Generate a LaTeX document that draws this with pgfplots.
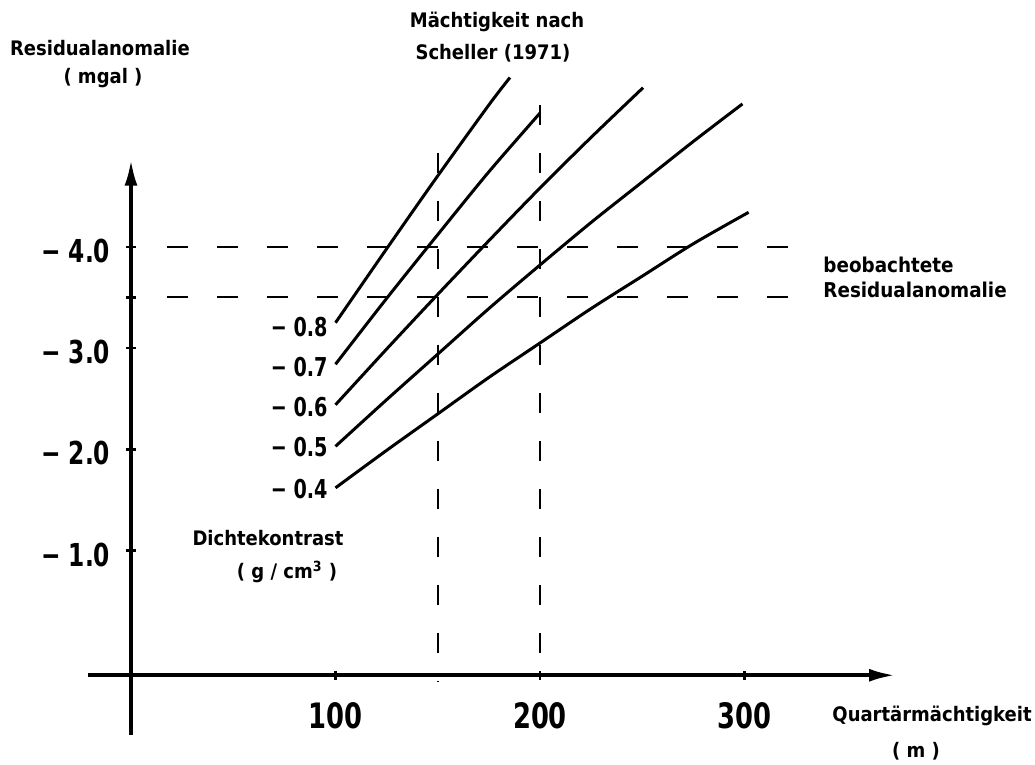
\documentclass[border=0pt]{standalone}
\usepackage{fontspec}
\setmainfont{DejaVu Sans Condensed}
\newfontfamily\narrow{DejaVu Sans Condensed}[FakeStretch=0.82]
\usepackage{pgfplots}
\pgfplotsset{compat=1.18}
\usetikzlibrary{arrows.meta}
\begin{document}
\begin{tikzpicture}
\begin{axis}[
  x=1.0225pt, y=50.65pt,
  xmin=0, xmax=373.6, ymin=-0.23, ymax=4.86,
  axis lines=left,
  axis line style={line width=1.8pt, -{Latex[length=13pt,width=6.5pt]}},
  clip=false,
  tick align=center,
  major tick length=4.5pt,
  tick style={black, line width=1.2pt},
  xtick={100,200,300}, xticklabels={100,200,300},
  ytick={1,2,3,4}, yticklabels={− 1.0,− 2.0,− 3.0,− 4.0},
  extra y ticks={3.5}, extra y tick labels={},
  xticklabel style={font=\narrow\bfseries\fontsize{17.5}{19}\selectfont, anchor=north, inner sep=0pt, yshift=-11pt},
  yticklabel style={font=\narrow\bfseries\fontsize{15.8}{18}\selectfont, anchor=east, inner sep=0pt, xshift=-8pt, yshift=-2pt},
]
% invisible frame = full picture
\path (axis cs:-64.06,6.436) rectangle (axis cs:442.05,-1.115);
% axis extensions
\draw[line width=1.8pt] (axis cs:-21,-0.23) -- (axis cs:0,-0.23);
\draw[line width=1.8pt] (axis cs:0,-0.23) -- (axis cs:0,-0.82);

% density contrast curves
\addplot[black, line width=1.5pt, smooth, tension=0.5] coordinates {(100,3.25) (125,3.98) (150,4.70) (175,5.40) (185.3,5.67)};
\addplot[black, line width=1.5pt, smooth, tension=0.5] coordinates {(100,2.84) (125,3.49) (150,4.12) (175,4.74) (200,5.32)};
\addplot[black, line width=1.5pt, smooth, tension=0.5] coordinates {(100,2.44) (125,2.99) (150,3.53) (175,4.06) (200,4.58) (225,5.08) (250.4,5.57)};
\addplot[black, line width=1.5pt, smooth, tension=0.5] coordinates {(100,2.03) (125,2.49) (150,2.94) (175,3.39) (200,3.82) (225,4.24) (250,4.64) (275,5.04) (299,5.41)};
\addplot[black, line width=1.5pt, smooth, tension=0.5] coordinates {(100,1.62) (125,1.99) (150,2.35) (175,2.71) (200,3.05) (225,3.39) (250,3.71) (275,4.03) (302,4.34)};

% observed anomaly (dashed horizontals)
\addplot[black, line width=1pt, dash pattern=on 10.5pt off 14.5pt] coordinates {(17.6,4.0) (327,4.0)};
\addplot[black, line width=1pt, dash pattern=on 10.5pt off 14.5pt] coordinates {(17.6,3.5) (327,3.5)};
% thickness after Scheller (dashed verticals)
\addplot[black, line width=1pt, dash pattern=on 10pt off 14pt] coordinates {(150,4.93) (150,-0.3)};
\addplot[black, line width=1pt, dash pattern=on 10pt off 14pt] coordinates {(200,5.40) (200,-0.2)};

% curve labels
\node[anchor=east, font=\narrow\bfseries\fontsize{13}{15}\selectfont, inner sep=0pt] at (axis cs:96.3,3.21) {− 0.8};
\node[anchor=east, font=\narrow\bfseries\fontsize{13}{15}\selectfont, inner sep=0pt] at (axis cs:96.3,2.81) {− 0.7};
\node[anchor=east, font=\narrow\bfseries\fontsize{13}{15}\selectfont, inner sep=0pt] at (axis cs:96.3,2.42) {− 0.6};
\node[anchor=east, font=\narrow\bfseries\fontsize{13}{15}\selectfont, inner sep=0pt] at (axis cs:96.3,2.02) {− 0.5};
\node[anchor=east, font=\narrow\bfseries\fontsize{13}{15}\selectfont, inner sep=0pt] at (axis cs:96.3,1.61) {− 0.4};

% texts
\node[font=\bfseries\fontsize{10}{12}\selectfont, inner sep=0pt] at (axis cs:-15.2,5.96) {Residualanomalie};
\node[font=\bfseries\fontsize{10}{12}\selectfont, inner sep=0pt] at (axis cs:-13.7,5.67) {( mgal )};
\node[font=\bfseries\fontsize{10}{12}\selectfont, inner sep=0pt] at (axis cs:179,6.22) {Mächtigkeit nach};
\node[font=\bfseries\fontsize{10}{12}\selectfont, inner sep=0pt] at (axis cs:177,5.91) {Scheller (1971)};
\node[anchor=west, font=\bfseries\fontsize{10.2}{12}\selectfont, inner sep=0pt] at (axis cs:338.4,3.82) {beobachtete};
\node[anchor=west, font=\bfseries\fontsize{10.2}{12}\selectfont, inner sep=0pt] at (axis cs:338.4,3.57) {Residualanomalie};
\node[font=\bfseries\fontsize{10}{12}\selectfont, inner sep=0pt] at (axis cs:391.7,-0.63) {Quartärmächtigkeit};
\node[font=\bfseries\fontsize{10}{12}\selectfont, inner sep=0pt] at (axis cs:383.9,-0.98) {( m )};
\node[font=\bfseries\fontsize{10}{12}\selectfont, inner sep=0pt] at (axis cs:67,1.125) {Dichtekontrast};
\node[font=\bfseries\fontsize{10}{12}\selectfont, inner sep=0pt] at (axis cs:76.3,0.79) {( g / cm\textsuperscript{3} )};
\end{axis}
\end{tikzpicture}
\end{document}
